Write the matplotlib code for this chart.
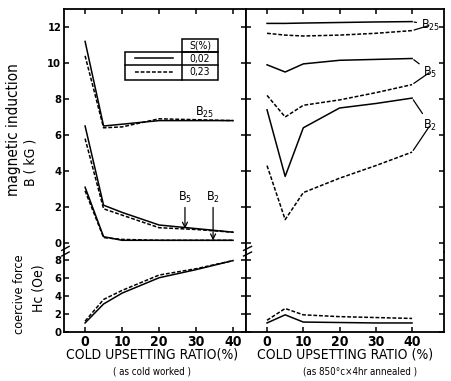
import matplotlib
matplotlib.use('Agg')
import matplotlib.pyplot as plt
from matplotlib.patches import Rectangle

plt.rcParams['font.family'] = ['DejaVu Sans']
plt.rcParams['font.stretch'] = 'condensed'
plt.rcParams['mathtext.fontset'] = 'dejavusans'

# upsetting ratio (%)
ratio = [0, 5, 10, 20, 30, 40]

# as cold worked -- B (kG)
cw_b25_s = [11.2, 6.5, 6.6, 6.8, 6.8, 6.8]
cw_b25_d = [10.4, 6.4, 6.45, 6.9, 6.85, 6.8]
cw_b5_s = [6.5, 2.1, 1.7, 1.0, 0.8, 0.6]
cw_b5_d = [5.8, 1.9, 1.55, 0.85, 0.75, 0.6]
cw_b2_s = [3.1, 0.35, 0.15, 0.15, 0.15, 0.15]
cw_b2_d = [2.9, 0.3, 0.2, 0.15, 0.15, 0.15]
# as cold worked -- Hc (Oe)
cw_hc_s = [1.0, 3.1, 4.3, 6.0, 6.9, 7.9]
cw_hc_d = [1.2, 3.6, 4.6, 6.3, 7.0, 7.9]

# 850C x 4hr annealed -- B (kG)
an_b25_s = [12.2, 12.2, 12.22, 12.25, 12.28, 12.3]
an_b25_d = [11.65, 11.55, 11.5, 11.55, 11.65, 11.8]
an_b5_s = [9.9, 9.5, 9.95, 10.15, 10.2, 10.25]
an_b5_d = [8.2, 7.0, 7.65, 7.95, 8.35, 8.8]
an_b2_s = [7.4, 3.7, 6.4, 7.5, 7.75, 8.05]
an_b2_d = [4.3, 1.3, 2.8, 3.6, 4.3, 5.05]
# annealed -- Hc (Oe)
an_hc_s = [1.0, 1.9, 1.1, 1.05, 1.0, 1.0]
an_hc_d = [1.3, 2.6, 1.9, 1.7, 1.6, 1.5]

x_ticks = [0, 10, 20, 30, 40]
b_ticks = [0, 2, 4, 6, 8, 10, 12]
hc_ticks = [0, 2, 4, 6, 8]
s_labels = ['0,02', '0,23']

W, H = 451, 381
fig = plt.figure(figsize=(W / 100, H / 100), dpi=100)


def box(px0, py0, px1, py1):
    return [px0 / W, 1 - py1 / H, (px1 - px0) / W, (py1 - py0) / H]


ax_bl = fig.add_axes(box(64, 9, 246, 252))
ax_hl = fig.add_axes(box(64, 252, 246, 332))
ax_br = fig.add_axes(box(246, 9, 444, 252))
ax_hr = fig.add_axes(box(246, 252, 444, 332))

solid = dict(color='black', lw=1.1, ls='-')
dashed = dict(color='black', lw=1.1, ls=(0, (2.5, 1.2)))

for s, d in [(cw_b25_s, cw_b25_d), (cw_b5_s, cw_b5_d), (cw_b2_s, cw_b2_d)]:
    ax_bl.plot(ratio, s, **solid)
    ax_bl.plot(ratio, d, **dashed)
ax_hl.plot(ratio, cw_hc_s, **solid)
ax_hl.plot(ratio, cw_hc_d, **dashed)

for s, d in [(an_b25_s, an_b25_d), (an_b5_s, an_b5_d), (an_b2_s, an_b2_d)]:
    ax_br.plot(ratio, s, **solid)
    ax_br.plot(ratio, d, **dashed)
ax_hr.plot(ratio, an_hc_s, **solid)
ax_hr.plot(ratio, an_hc_d, **dashed)

ax_bl.set_xlim(-5.7, 43.5)
ax_hl.set_xlim(-5.7, 43.5)
ax_br.set_xlim(-5.8, 48.8)
ax_hr.set_xlim(-5.8, 48.8)
for ax in (ax_bl, ax_br):
    ax.set_ylim(-0.5, 13.0)
for ax in (ax_hl, ax_hr):
    ax.set_ylim(0, 8.85)

for ax in (ax_bl, ax_hl, ax_br, ax_hr):
    ax.set_xticks(x_ticks)
    for sp in ax.spines.values():
        sp.set_linewidth(1.3)
    ax.tick_params(direction='in', length=3.5, width=1.1, top=True, right=True,
                   labelsize=8, pad=2)
for ax in (ax_bl, ax_br):
    ax.spines['bottom'].set_visible(False)
    ax.set_yticks(b_ticks)
    ax.tick_params(bottom=False, labelbottom=False)
for ax in (ax_hl, ax_hr):
    ax.spines['top'].set_visible(False)
    ax.set_yticks(hc_ticks)
    ax.tick_params(top=False)
    ax.tick_params(axis='x', labelsize=10, pad=2)
ax_br.tick_params(labelleft=False)
ax_hr.tick_params(labelleft=False)
for ax in (ax_bl, ax_hl, ax_br, ax_hr):
    for lab in ax.get_xticklabels() + ax.get_yticklabels():
        lab.set_fontweight('bold')

# break marks on the y axes
for ax in (ax_hl, ax_hr):
    for dy in (0.0, 0.07):
        ax.plot([-0.012, 0.028], [0.95 + dy, 1.0 + dy], transform=ax.transAxes,
                color='black', lw=1.0, clip_on=False)

# legend table
t = ax_bl.transAxes
ax_bl.add_patch(Rectangle((0.648, 0.823), 0.198, 0.054, transform=t,
                          fill=False, lw=1.1, clip_on=False))
ax_bl.add_patch(Rectangle((0.335, 0.708), 0.511, 0.115, transform=t,
                          fill=False, lw=1.1, clip_on=False))
ax_bl.plot([0.648, 0.648], [0.708, 0.823], transform=t, color='black', lw=1.1)
ax_bl.plot([0.335, 0.846], [0.770, 0.770], transform=t, color='black', lw=1.1)
ax_bl.text(0.747, 0.850, 'S(%)', transform=t, ha='center', va='center', fontsize=7.5)
ax_bl.plot([0.39, 0.60], [0.798, 0.798], transform=t, **solid)
ax_bl.plot([0.39, 0.60], [0.741, 0.741], transform=t, **dashed)
ax_bl.text(0.747, 0.796, s_labels[0], transform=t, ha='center', va='center', fontsize=7.5)
ax_bl.text(0.747, 0.739, s_labels[1], transform=t, ha='center', va='center', fontsize=7.5)

# curve labels, cold worked
ax_bl.text(32.4, 7.25, r'B$_{25}$', ha='center', va='center', fontsize=9)
ax_bl.annotate(r'B$_5$', xy=(27, 0.8), xytext=(27, 2.55), ha='center', va='center',
               fontsize=9, arrowprops=dict(arrowstyle='->', lw=0.9, shrinkA=0, shrinkB=0))
ax_bl.annotate(r'B$_2$', xy=(34.6, 0.15), xytext=(34.6, 2.55), ha='center', va='center',
               fontsize=9, arrowprops=dict(arrowstyle='->', lw=0.9, shrinkA=0, shrinkB=0))

# curve labels, annealed (brackets to the curve ends)
for name, lab_y, s, d in [(r'B$_{25}$', 12.1, an_b25_s, an_b25_d),
                          (r'B$_5$', 9.5, an_b5_s, an_b5_d),
                          (r'B$_2$', 6.55, an_b2_s, an_b2_d)]:
    for i, series in enumerate((s, d)):
        ax_br.annotate(name if i == 0 else '', xy=(ratio[-1], series[-1]),
                       xytext=(45.0, lab_y), ha='center', va='center', fontsize=9,
                       color='black' if i == 0 else (0, 0, 0, 0),
                       arrowprops=dict(arrowstyle='-', lw=0.9, shrinkA=1, shrinkB=1.5))

# axis titles
fig.text(14 / W, 1 - 130 / H, 'magnetic induction', rotation=90, ha='center',
         va='center', fontsize=11)
fig.text(31 / W, 1 - 162 / H, 'B ( kG )', rotation=90, ha='center', va='center',
         fontsize=10)
fig.text(20 / W, 1 - 294 / H, 'coercive force', rotation=90, ha='center',
         va='center', fontsize=9)
fig.text(38 / W, 1 - 288 / H, 'Hc (Oe)', rotation=90, ha='center', va='center',
         fontsize=10)
fig.text(152 / W, 1 - 355 / H, 'COLD UPSETTING RATIO(%)', ha='center', va='center',
         fontsize=10)
fig.text(345 / W, 1 - 355 / H, 'COLD UPSETTING RATIO (%)', ha='center', va='center',
         fontsize=10)
fig.text(152 / W, 1 - 371 / H, '( as cold worked )', ha='center', va='center',
         fontsize=7)
fig.text(360 / W, 1 - 371 / H, '(as 850\u00b0c\u00d74hr annealed )', ha='center',
         va='center', fontsize=7)

fig.savefig('out.png', dpi=100)
